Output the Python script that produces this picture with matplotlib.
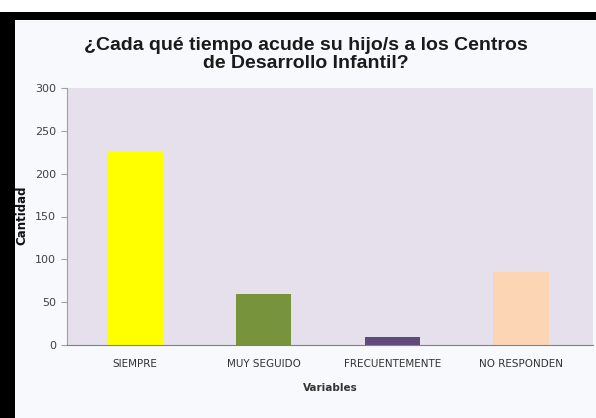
import matplotlib
matplotlib.use("Agg")
import matplotlib.pyplot as plt
from matplotlib.patches import Rectangle

categories = ["SIEMPRE", "MUY SEGUIDO", "FRECUENTEMENTE", "NO RESPONDEN"]
values = [225, 60, 9, 85]
bar_colors = ["#ffff00", "#77933c", "#604a7b", "#fcd5b4"]
yticks = [0, 50, 100, 150, 200, 250, 300]

W, H = 596, 418
fig = plt.figure(figsize=(W / 100, H / 100), dpi=100)
fig.patch.set_facecolor("white")

# inner panel and black frame
fig.add_artist(Rectangle((0, 0), 1, 1 - 12 / H, transform=fig.transFigure,
                         facecolor="#f8f9fd", edgecolor="none", zorder=0))
fig.add_artist(Rectangle((0, 1 - 20 / H), 1, 8 / H, transform=fig.transFigure,
                         facecolor="black", edgecolor="none", zorder=1))
fig.add_artist(Rectangle((0, 0), 15 / W, 1 - 12 / H, transform=fig.transFigure,
                         facecolor="black", edgecolor="none", zorder=1))

ax = fig.add_axes([67 / W, 1 - 345 / H, (593 - 67) / W, (345 - 88) / H])
ax.set_facecolor("#e5e0ec")
x = range(len(categories))
ax.bar(x, values, width=0.43, color=bar_colors, zorder=2)
ax.set_xlim(-0.53, 3.56)
ax.set_ylim(0, 300)
ax.set_yticks(yticks)
ax.set_yticklabels([str(t) for t in yticks], fontsize=8, color="#404040")
ax.set_xticks(list(x))
ax.set_xticklabels(categories, fontsize=7.5, color="#333333")
ax.tick_params(axis="x", length=0, pad=10)
ax.tick_params(axis="y", length=4, color="#a0a0a0", pad=4)
for s in ["top", "right"]:
    ax.spines[s].set_visible(False)
ax.spines["left"].set_color("#a0a0a0")
ax.spines["bottom"].set_color("#808080")

ax.set_xlabel("Variables", fontsize=7.5, fontweight="bold", color="#333333", labelpad=10)
fig.text(22 / W, 1 - 215 / H, "Cantidad", rotation=90, fontsize=8.5, fontweight="bold",
         ha="center", va="center", color="#111111")

title_font = ["Liberation Sans", "DejaVu Sans"]
fig.text(306 / W, 1 - 45 / H, "¿Cada qué tiempo acude su hijo/s a los Centros",
         fontsize=14, fontweight="bold", ha="center", va="center",
         family=title_font, color="#1a1a1a")
fig.text(306 / W, 1 - 63 / H, "de Desarrollo Infantil?",
         fontsize=14, fontweight="bold", ha="center", va="center",
         family=title_font, color="#1a1a1a")

fig.savefig("out.png", dpi=100)
